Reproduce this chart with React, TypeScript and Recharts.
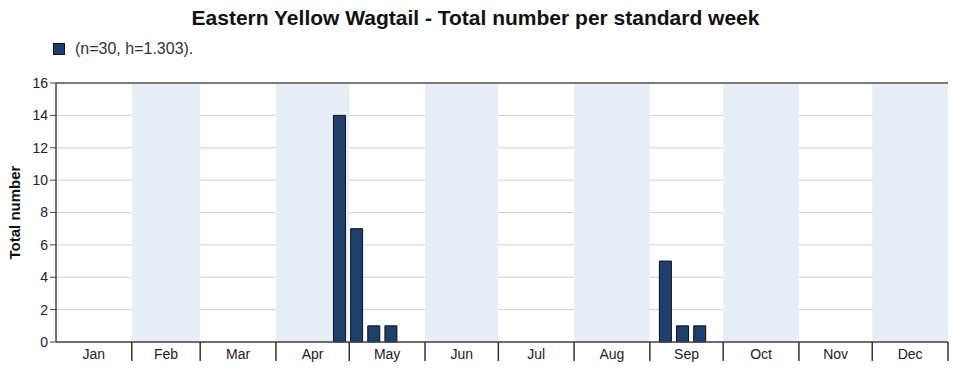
import React from 'react';
import { BarChart, Bar, XAxis, YAxis, CartesianGrid, ReferenceArea, ReferenceLine } from 'recharts';

// Standard weeks 1..52 and total count per week
const weeks = [
    1, 2, 3, 4, 5, 6, 7, 8, 9, 10, 11, 12, 13, 14, 15, 16, 17, 18, 19, 20, 21, 22, 23, 24, 25, 26,
    27, 28, 29, 30, 31, 32, 33, 34, 35, 36, 37, 38, 39, 40, 41, 42, 43, 44, 45, 46, 47, 48, 49, 50, 51, 52,
];
const totals = [
    0, 0, 0, 0, 0, 0, 0, 0, 0, 0, 0, 0, 0, 0, 0, 0, 14, 7, 1, 1, 0, 0, 0, 0, 0, 0,
    0, 0, 0, 0, 0, 0, 0, 0, 0, 5, 1, 1, 0, 0, 0, 0, 0, 0, 0, 0, 0, 0, 0, 0, 0, 0,
];

const months = ['Jan', 'Feb', 'Mar', 'Apr', 'May', 'Jun', 'Jul', 'Aug', 'Sep', 'Oct', 'Nov', 'Dec'];
const monthStart = [0, 31, 59, 90, 120, 151, 181, 212, 243, 273, 304, 334];
const monthDays = [31, 28, 31, 30, 31, 30, 31, 31, 30, 31, 30, 31];
const shadedMonths = [1, 3, 5, 7, 9, 11];
const yTicks = [0, 2, 4, 6, 8, 10, 12, 14, 16];

// day of year each standard week starts on (for the month axis)
const data = weeks.map((w, i) => ({ week: w, day: (w - 1) * 7, total: totals[i] }));

const CHART_W = 966;
const CHART_H = 374;
const MARGIN = { top: 83, right: 18, left: 0, bottom: 0 };
const Y_AXIS_W = 56;
const PLOT_W = CHART_W - MARGIN.left - MARGIN.right - Y_AXIS_W;
const PX_PER_DAY = PLOT_W / 365;

const FONT = '"Liberation Sans", Arial, sans-serif';

const MonthTick = (props: any) => {
    const { x, y, index } = props;
    const half = (monthDays[index] / 2) * PX_PER_DAY;
    const end = monthDays[index] * PX_PER_DAY;
    return (
        <g>
            <line x1={x + end} y1={y} x2={x + end} y2={y + 19} stroke="#333" strokeWidth={1.5} />
            <text x={x + half} y={y + 17} textAnchor="middle" fontSize={14} fill="#222" fontFamily={FONT}>
                {months[index]}
            </text>
        </g>
    );
};

export default function App() {
    return (
        <div style={{ position: 'absolute', left: 0, top: 0, width: CHART_W, height: CHART_H, background: '#fff', fontFamily: FONT }}>
            <div style={{ position: 'absolute', left: 0, width: 951, top: 6, textAlign: 'center', fontSize: 21, fontWeight: 'bold', color: '#111' }}>
                Eastern Yellow Wagtail - Total number per standard week
            </div>
            <div style={{ position: 'absolute', left: 53, top: 40, display: 'flex', alignItems: 'center', fontSize: 16, color: '#333' }}>
                <span style={{ display: 'inline-block', width: 10, height: 10, background: '#1d3f6b', border: '1px solid #111', marginRight: 10 }} />
                (n=30, h=1.303).
            </div>
            <div style={{ position: 'absolute', left: 0, top: 0 }}>
                <BarChart width={CHART_W} height={CHART_H} data={data} margin={MARGIN}>
                    {shadedMonths.map(m => (
                        <ReferenceArea
                            key={m}
                            xAxisId="month"
                            x1={monthStart[m]}
                            x2={monthStart[m] + monthDays[m]}
                            fill="#e8eef8"
                            fillOpacity={1}
                            stroke="none"
                        />
                    ))}
                    <CartesianGrid vertical={false} stroke="#cfcfcf" />
                    <ReferenceLine y={16} stroke="#555" strokeWidth={1.5} />
                    <XAxis xAxisId="week" dataKey="week" hide />
                    <XAxis
                        xAxisId="month"
                        dataKey="day"
                        type="number"
                        domain={[0, 365]}
                        allowDataOverflow
                        ticks={monthStart}
                        interval={0}
                        tickLine={false}
                        tickSize={0}
                        tickMargin={0}
                        height={32}
                        axisLine={{ stroke: '#444', strokeWidth: 1.5 }}
                        tick={<MonthTick />}
                    />
                    <YAxis
                        width={Y_AXIS_W}
                        domain={[0, 16]}
                        ticks={yTicks}
                        interval={0}
                        tickSize={6}
                        tickMargin={2}
                        axisLine={{ stroke: '#444', strokeWidth: 1.5 }}
                        tickLine={{ stroke: '#444' }}
                        tick={{ fontSize: 14, fill: '#222', fontFamily: FONT }}
                        label={{
                            value: 'Total number',
                            angle: -90,
                            position: 'insideLeft',
                            offset: 15,
                            style: { textAnchor: 'middle', fontSize: 15, fontWeight: 'bold', fill: '#111', fontFamily: FONT },
                        }}
                    />
                    <Bar xAxisId="week" dataKey="total" barSize={12} fill="#1d3f6b" stroke="#111" strokeWidth={1} isAnimationActive={false} />
                </BarChart>
            </div>
        </div>
    );
}
